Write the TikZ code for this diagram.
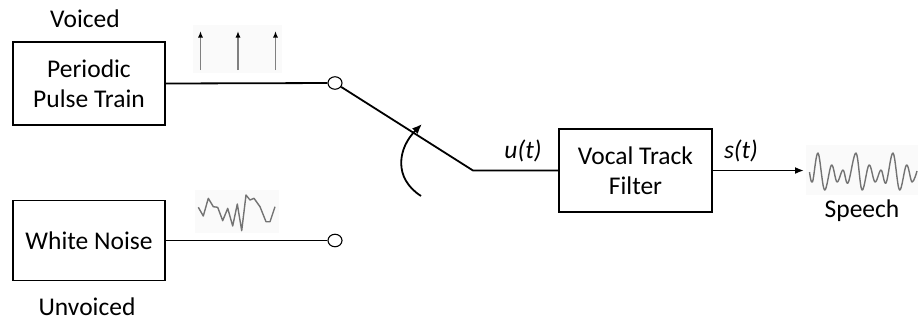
\documentclass[tikz,border=0pt]{standalone}
\usepackage{fontspec}
\setmainfont{Carlito}
\usetikzlibrary{arrows.meta,shapes.geometric}
\begin{document}
\begin{tikzpicture}[x=1pt, y=-1pt,
  lbl/.style={font=\fontsize{25.5}{30}\selectfont, inner sep=0pt, align=center},
  blockbox/.style={draw, line width=1.5pt, rectangle, inner sep=0pt, font=\fontsize{25.5}{30}\selectfont, align=center},
  terminal/.style={draw, line width=1.1pt, ellipse, minimum width=14pt, minimum height=12.5pt, inner sep=0pt, fill=white},
  wire/.style={line width=1.8pt},
  wave/.style={draw=black!55, line width=1.4pt, line join=round},
  thumb/.style={fill=black!2, draw=none}
]
\useasboundingbox (0,0) rectangle (918,322);

% thumbnails' faint backgrounds
\fill[thumb] (193,25) rectangle (282,73);
\fill[thumb] (195,190) rectangle (279,233);
\fill[thumb] (806,145) rectangle (918,195);

% source blocks
\node[blockbox, minimum width=152pt, minimum height=83pt] (pulse) at (89,83.5) {Periodic\\Pulse Train};
\node[blockbox, minimum width=152pt, minimum height=80pt] (noise) at (89,240.5) {White Noise};
\node[lbl] (voiced) at (85,19) {Voiced};
\node[lbl] (unvoiced) at (87,307) {Unvoiced};

% switch terminals
\node[terminal] (tv) at (335,83) {};
\node[terminal] (tu) at (335,240.5) {};
\draw[wire] (pulse.east) -- (tv);
\draw[wire] (noise.east) -- (tu);

% filter
\node[blockbox, minimum width=153pt, minimum height=83pt] (filter) at (635.5,170.5) {Vocal Track\\Filter};
\coordinate (pivot) at (473,170.5);
\draw[wire] (tv) -- (pivot) -- (filter.west);
\node[lbl] (ut) at (523,151) {\itshape u(t)};
\node[lbl] (st) at (741,151) {\itshape s(t)};

% output arrow and speech
\coordinate (spk) at (804,170.5);
\draw[wire, -{Latex[length=9pt,width=7pt]}] (filter.east) -- (spk);
\node[lbl] (speech) at (862,211) {Speech};

% switch lever
\coordinate (knobA) at (421,196);
\coordinate (knobB) at (422,124);
\draw[wire, -{Latex[length=10pt,width=8pt]}] (knobA) .. controls (393,178) and (398,148) .. (knobB);

% pulse train thumbnail
\foreach \px in {200.5,238,275.5}{
  \draw[draw=black!50, line width=1.3pt, -{Latex[black, length=6.5pt, width=5pt]}] (\px,70) -- (\px,31);
}

% noise thumbnail
\draw[wave] plot coordinates {(198.3,207.3) (203.3,216) (208.3,198.3) (213.3,206.7) (217.7,207.3) (222.7,220.7) (227.7,208.3) (232.7,226) (237.3,204) (241.7,230.7) (246,195) (250,200) (254,198.3) (260,206.7) (266,221.7) (270,221.7) (275,206.7)};

% speech waveform
\draw[wave, smooth, tension=0.6] plot coordinates {(809.5,172) (812.5,182) (818,153) (824.5,190) (831.5,165) (837,182) (843,170) (848,183) (856,153) (862,190) (869,165) (875,182) (881,170) (886,183) (893,153) (899.5,190) (906.5,165) (912,182) (917,171)};
\end{tikzpicture}
\end{document}
